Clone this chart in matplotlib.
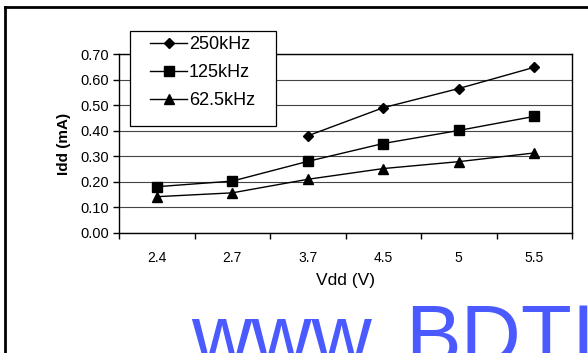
import matplotlib
matplotlib.use("Agg")
import matplotlib.pyplot as plt
from matplotlib.lines import Line2D
from matplotlib.patches import Rectangle
from matplotlib import font_manager
import numpy as np

categories = ["2.4", "2.7", "3.7", "4.5", "5", "5.5"]
idd_250k = [np.nan, np.nan, 0.38, 0.49, 0.565, 0.648]
idd_125k = [0.181, 0.203, 0.28, 0.35, 0.401, 0.456]
idd_62k5 = [0.142, 0.157, 0.21, 0.252, 0.279, 0.313]
series_labels = ["250kHz", "125kHz", "62.5kHz"]
yticks = [0.0, 0.1, 0.2, 0.3, 0.4, 0.5, 0.6, 0.7]

plt.rcParams['font.family'] = ['Liberation Sans', 'DejaVu Sans']

names = {f.name for f in font_manager.fontManager.ttflist}
narrow = 'Liberation Sans Narrow' in names

W, H = 588, 353
fig = plt.figure(figsize=(W / 100, H / 100), dpi=100)
ax = fig.add_axes([119 / W, 1 - 233 / H, (572 - 119) / W, (233 - 54) / H])

x = np.arange(len(categories))
ax.plot(x, idd_250k, color='black', lw=1, marker='D', ms=5.5, label=series_labels[0])
ax.plot(x, idd_125k, color='black', lw=1, marker='s', ms=6.5, label=series_labels[1])
ax.plot(x, idd_62k5, color='black', lw=1, marker='^', ms=7, label=series_labels[2])

ax.set_xlim(-0.5, len(categories) - 0.5)
ax.set_ylim(0, 0.7)
ax.set_yticks(yticks)
ax.set_yticklabels([f"{v:.2f}" for v in yticks], fontsize=10.5)
ax.set_xticks(x)
ax.set_xticklabels(categories, fontsize=10)
ax.set_xticks(np.arange(-0.5, len(categories)), minor=True)
ax.tick_params(axis='x', which='major', length=0, pad=13)
ax.tick_params(axis='x', which='minor', length=4, width=1, direction='out')
ax.tick_params(axis='y', length=4, width=1, direction='out', pad=3)
ax.grid(axis='y', color='#444444', lw=0.8)
ax.set_axisbelow(True)
for s in ax.spines.values():
    s.set_color('black')
    s.set_linewidth(1)

ax.set_xlabel("Vdd (V)", fontsize=12.5, labelpad=6)
ax.set_ylabel("Idd (mA)", fontsize=11, fontweight='bold', labelpad=7)

# legend frame drawn explicitly at the reference position
fig.add_artist(Rectangle((130 / W, 1 - 126 / H), (276 - 130) / W, (126 - 31) / H,
                         transform=fig.transFigure, facecolor='white', edgecolor='black',
                         lw=0.9, zorder=5))
leg = fig.legend(loc='upper left', bbox_to_anchor=(150 / W, 1 - 36 / H),
                 frameon=False, fontsize=13,
                 handlelength=2.05, handletextpad=0.1, borderpad=0.0,
                 labelspacing=0.62, borderaxespad=0)
leg.set_zorder(6)

# outer frame
fig.add_artist(Line2D([5 / W, 5 / W], [0, 1 - 7 / H], transform=fig.transFigure, color='black', lw=2))
fig.add_artist(Line2D([5 / W, 1], [1 - 7 / H, 1 - 7 / H], transform=fig.transFigure, color='black', lw=2))

# watermark
wm_color = '#4a5aff'
if narrow:
    wm_font = ['Liberation Sans Narrow']
    fs = 68
else:
    wm_font = ['Liberation Sans']
    fs = 60
fig.text(191 / W, 1 - 363 / H, "www.", fontsize=fs, color=wm_color, ha='left', va='baseline',
         family=wm_font)
fig.text(405 / W, 1 - 363 / H, "BDTIC", fontsize=fs, color=wm_color, ha='left', va='baseline',
         family=wm_font)

fig.savefig("out.png", dpi=100)
